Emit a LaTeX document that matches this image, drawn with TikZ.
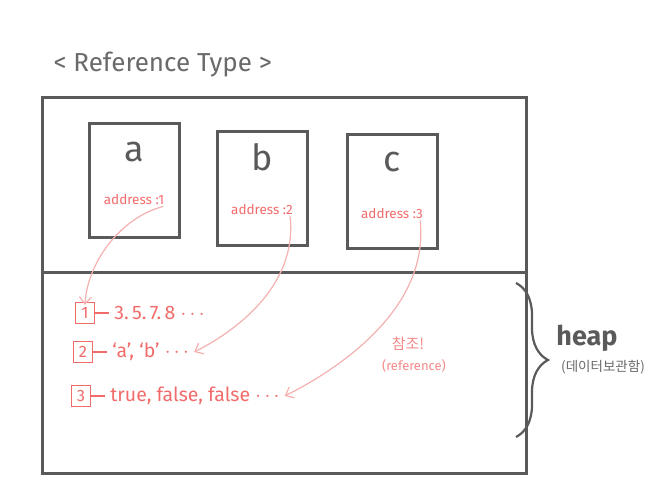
\documentclass[tikz,border=0pt]{standalone}
\usepackage{fontspec}
\setmainfont{Fira Sans}
\newfontfamily\krfont{Noto Sans CJK KR}
\usepackage{tikz}
\usetikzlibrary{positioning,arrows.meta,decorations.pathreplacing}

\definecolor{linegray}{HTML}{5A5A5A}
\definecolor{titlegray}{HTML}{6A6A6A}
\definecolor{addrred}{HTML}{F26B6B}
\definecolor{refpink}{HTML}{F5B0B0}

\begin{document}
\begin{tikzpicture}[x=1pt,y=-1pt,
  frame/.style={draw=linegray,line width=3pt},
  var/.style={draw=linegray,line width=3pt,minimum width=90pt,minimum height=114pt},
  letter/.style={text=linegray,font=\fontsize{36}{40}\selectfont},
  addr/.style={text=addrred,font=\fontsize{13.5}{16}\selectfont,inner sep=1pt},
  idx/.style={draw=addrred,line width=1.4pt,minimum width=19pt,minimum height=21pt,inner sep=0pt,text=addrred,font=\fontsize{16.5}{18}\selectfont},
  val/.style={text=addrred,font=\fontsize{19.5}{22}\selectfont,anchor=west,inner sep=1pt},
  ref/.style={draw=refpink,line width=1.2pt,-{Straight Barb[length=7pt,width=12pt]}}]
\useasboundingbox (0,0) rectangle (668,495);
% title
\node[anchor=west,text=titlegray,font=\fontsize{26}{30}\selectfont] (title) at (50,65) {< Reference Type >};
% memory: stack part above, heap part below
\coordinate (nw) at (42,97);
\coordinate (se) at (526,473);
\draw[frame] (nw) rectangle (se);
\draw[frame] (nw |- 0,272) -- (se |- 0,272);
% variables
\node[var] (a) at (134,180) {};
\node[var] (b) at (262,188) {};
\node[var] (c) at (392,191) {};
\node[letter] (la) at (134,152) {a};
\node[letter] (lb) at (262,157) {b};
\node[letter] (lc) at (392,162) {c};
\node[addr] (ad1) at (134,200) {address :1};
\node[addr] (ad2) at (262,210) {address :2};
\node[addr] (ad3) at (392,214) {address :3};
% heap values
\foreach \i/\y/\x/\v in {1/313/85/{3.\,5.\,7.\,8 $\cdots$},2/352/83/{`a', `b' $\cdots$},3/396/81/{true, false, false $\cdots$}} {
  \node[idx] (i\i) at (\x,\y) {\i};
  \node[val,right=18pt of i\i] (v\i) {\v};
  \draw[addrred,line width=1.4pt] (i\i.east) -- ([xshift=-4pt]v\i.west);
}
% references
\draw[ref] ([xshift=-2pt]ad1.south east) .. controls +(-45,12) and +(2,-40) .. ([yshift=-3pt]i1.north);
\draw[ref] ([xshift=-4pt]ad2.south east) .. controls +(8,70) and +(40,-20) .. ([xshift=4pt]v2.east);
\draw[ref] ([xshift=-4pt]ad3.south east) .. controls +(10,90) and +(50,-25) .. ([xshift=4pt]v3.east);
\node[text=addrred!80,font=\krfont\fontsize{15}{17}\selectfont] (ref1) at (408,344) {참조!};
\node[text=addrred!80,font=\fontsize{13}{15}\selectfont] (ref2) at (414,366) {(reference)};
% heap brace
\draw[linegray,line width=2.2pt,decorate,decoration={brace,amplitude=32pt}] (516,283) -- (516,437);
\node[text=linegray,font=\bfseries\fontsize{27}{30}\selectfont] (heap) at (587,338) {heap};
\node[text=titlegray,font=\krfont\fontsize{13.5}{15}\selectfont] (heapkr) at (603,367) {(데이터보관함)};
\end{tikzpicture}
\end{document}
